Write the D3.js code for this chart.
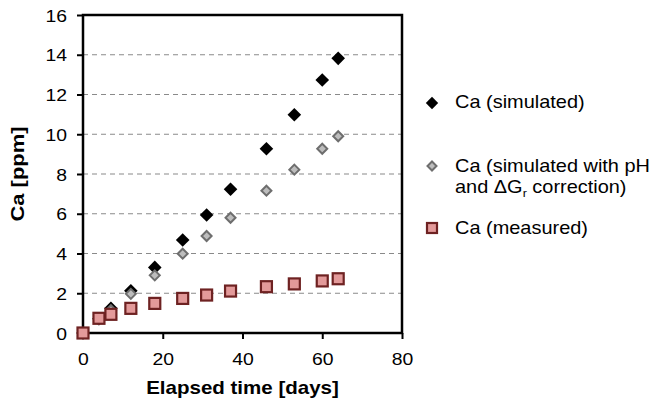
<!DOCTYPE html>
<html>
<head>
<meta charset="utf-8">
<script src="https://cdn.jsdelivr.net/npm/d3@7"></script>
<style>
  body { margin: 0; background: #fff; }
  svg { display: block; font-family: "Liberation Sans", Arial, Helvetica, sans-serif; }
</style>
</head>
<body>
<svg id="chart" width="657" height="406"></svg>
<script>
const days = [0, 4, 7, 12, 18, 25, 31, 37, 46, 53, 60, 64];
const simulated = [0, 0.72, 1.24, 2.12, 3.30, 4.68, 5.94, 7.23, 9.27, 10.98, 12.73, 13.82];
const corrected = [0, 0.70, 1.15, 1.97, 2.90, 3.99, 4.88, 5.80, 7.16, 8.22, 9.27, 9.90];
const measured = [0, 0.74, 0.94, 1.24, 1.49, 1.74, 1.91, 2.11, 2.33, 2.47, 2.62, 2.73];
const xTicks = [0, 20, 40, 60, 80];
const yTicks = [0, 2, 4, 6, 8, 10, 12, 14, 16];
const seriesNames = ["Ca (simulated)", "Ca (simulated with pH", "Ca (measured)"];

const SX = 1.14; // horizontal text stretch seen in the reference
const svg = d3.select("#chart");
const m = {left: 83, right: 402, top: 15, bottom: 333};

const x = d3.scaleLinear().domain([0, 80]).range([m.left, m.right]);
const y = d3.scaleLinear().domain([0, 16]).range([m.bottom, m.top]);

// grid lines
svg.append("g").selectAll("line")
  .data(yTicks.filter(v => v > 0 && v < 16))
  .join("line")
  .attr("x1", m.left).attr("x2", m.right)
  .attr("y1", d => y(d)).attr("y2", d => y(d))
  .attr("stroke", "#8a8a8a").attr("stroke-width", 1.2)
  .attr("stroke-dasharray", "5,4");

// axes
const yAxis = d3.axisLeft(y).tickValues(yTicks).tickSize(6).tickPadding(0).tickFormat(d3.format("d"));
const gy = svg.append("g").attr("transform", `translate(${m.left},0)`).call(yAxis);
gy.select(".domain").remove();
gy.selectAll(".tick line").attr("stroke", "#000").attr("stroke-width", 2);
gy.selectAll(".tick text")
  .attr("x", 0).attr("dy", "0.36em")
  .attr("transform", `translate(-16,0) scale(${SX},1)`)
  .attr("text-anchor", "end")
  .style("font-size", "17px").attr("fill", "#000");

const xAxis = d3.axisBottom(x).tickValues(xTicks).tickSize(6).tickPadding(0).tickFormat(d3.format("d"));
const gx = svg.append("g").attr("transform", `translate(0,${m.bottom})`).call(xAxis);
gx.select(".domain").remove();
gx.selectAll(".tick line").attr("stroke", "#000").attr("stroke-width", 2);
gx.selectAll(".tick text")
  .attr("y", 0).attr("dy", 0)
  .attr("transform", `translate(0,32) scale(${SX},1)`)
  .style("font-size", "17px").attr("fill", "#000");

// frame
svg.append("rect")
  .attr("x", m.left).attr("y", m.top)
  .attr("width", m.right - m.left).attr("height", m.bottom - m.top)
  .attr("fill", "none").attr("stroke", "#000").attr("stroke-width", 2.5);

// markers
const diamond = (r) => `M0,${-r}L${r},0L0,${r}L${-r},0Z`;
const ptsSim = days.map((d, i) => [d, simulated[i]]);
const ptsCor = days.map((d, i) => [d, corrected[i]]);
const ptsMea = days.map((d, i) => [d, measured[i]]);

svg.append("g").selectAll("path").data(ptsSim).join("path")
  .attr("d", diamond(6.8))
  .attr("transform", d => `translate(${x(d[0])},${y(d[1])})`)
  .attr("fill", "#000");

svg.append("g").selectAll("path").data(ptsCor).join("path")
  .attr("d", diamond(5))
  .attr("transform", d => `translate(${x(d[0])},${y(d[1])})`)
  .attr("fill", "#bdbdbd").attr("stroke", "#6e6e6e").attr("stroke-width", 2);

svg.append("g").selectAll("rect").data(ptsMea).join("rect")
  .attr("x", d => x(d[0]) - 5.5).attr("y", d => y(d[1]) - 5.5)
  .attr("width", 11).attr("height", 11)
  .attr("fill", "#e39a9a").attr("stroke", "#6e2222").attr("stroke-width", 2.2);

// axis titles
svg.append("text")
  .attr("transform", `translate(${(m.left + m.right) / 2},394) scale(${SX},1)`)
  .attr("text-anchor", "middle")
  .style("font-size", "18px").style("font-weight", "bold")
  .text("Elapsed time [days]");

svg.append("text")
  .attr("transform", `translate(24,${(m.top + m.bottom) / 2}) rotate(-90) scale(1.22,1)`)
  .attr("text-anchor", "middle")
  .style("font-size", "18px").style("font-weight", "bold")
  .text("Ca [ppm]");

// legend
const lg = svg.append("g");
lg.append("path").attr("d", diamond(6.2)).attr("transform", "translate(432,103)").attr("fill", "#000");
lg.append("path").attr("d", diamond(4.5)).attr("transform", "translate(432,166)")
  .attr("fill", "#bdbdbd").attr("stroke", "#6e6e6e").attr("stroke-width", 2);
lg.append("rect").attr("x", 427).attr("y", 223).attr("width", 10).attr("height", 10)
  .attr("fill", "#e39a9a").attr("stroke", "#6e2222").attr("stroke-width", 2.2);

const legText = (yy, content) => {
  const t = lg.append("text")
    .attr("transform", `translate(455,${yy}) scale(${SX},1)`)
    .style("font-size", "17.5px").attr("fill", "#000");
  content(t);
  return t;
};
legText(107.5, t => t.text(seriesNames[0]));
legText(171.5, t => t.text(seriesNames[1]));
legText(193, t => {
  t.append("tspan").text("and \u0394G");
  t.append("tspan").attr("dy", 4).style("font-size", "11px").text("r");
  t.append("tspan").attr("dy", -4).text(" correction)");
});
legText(234, t => t.text(seriesNames[2]));
</script>
</body>
</html>
